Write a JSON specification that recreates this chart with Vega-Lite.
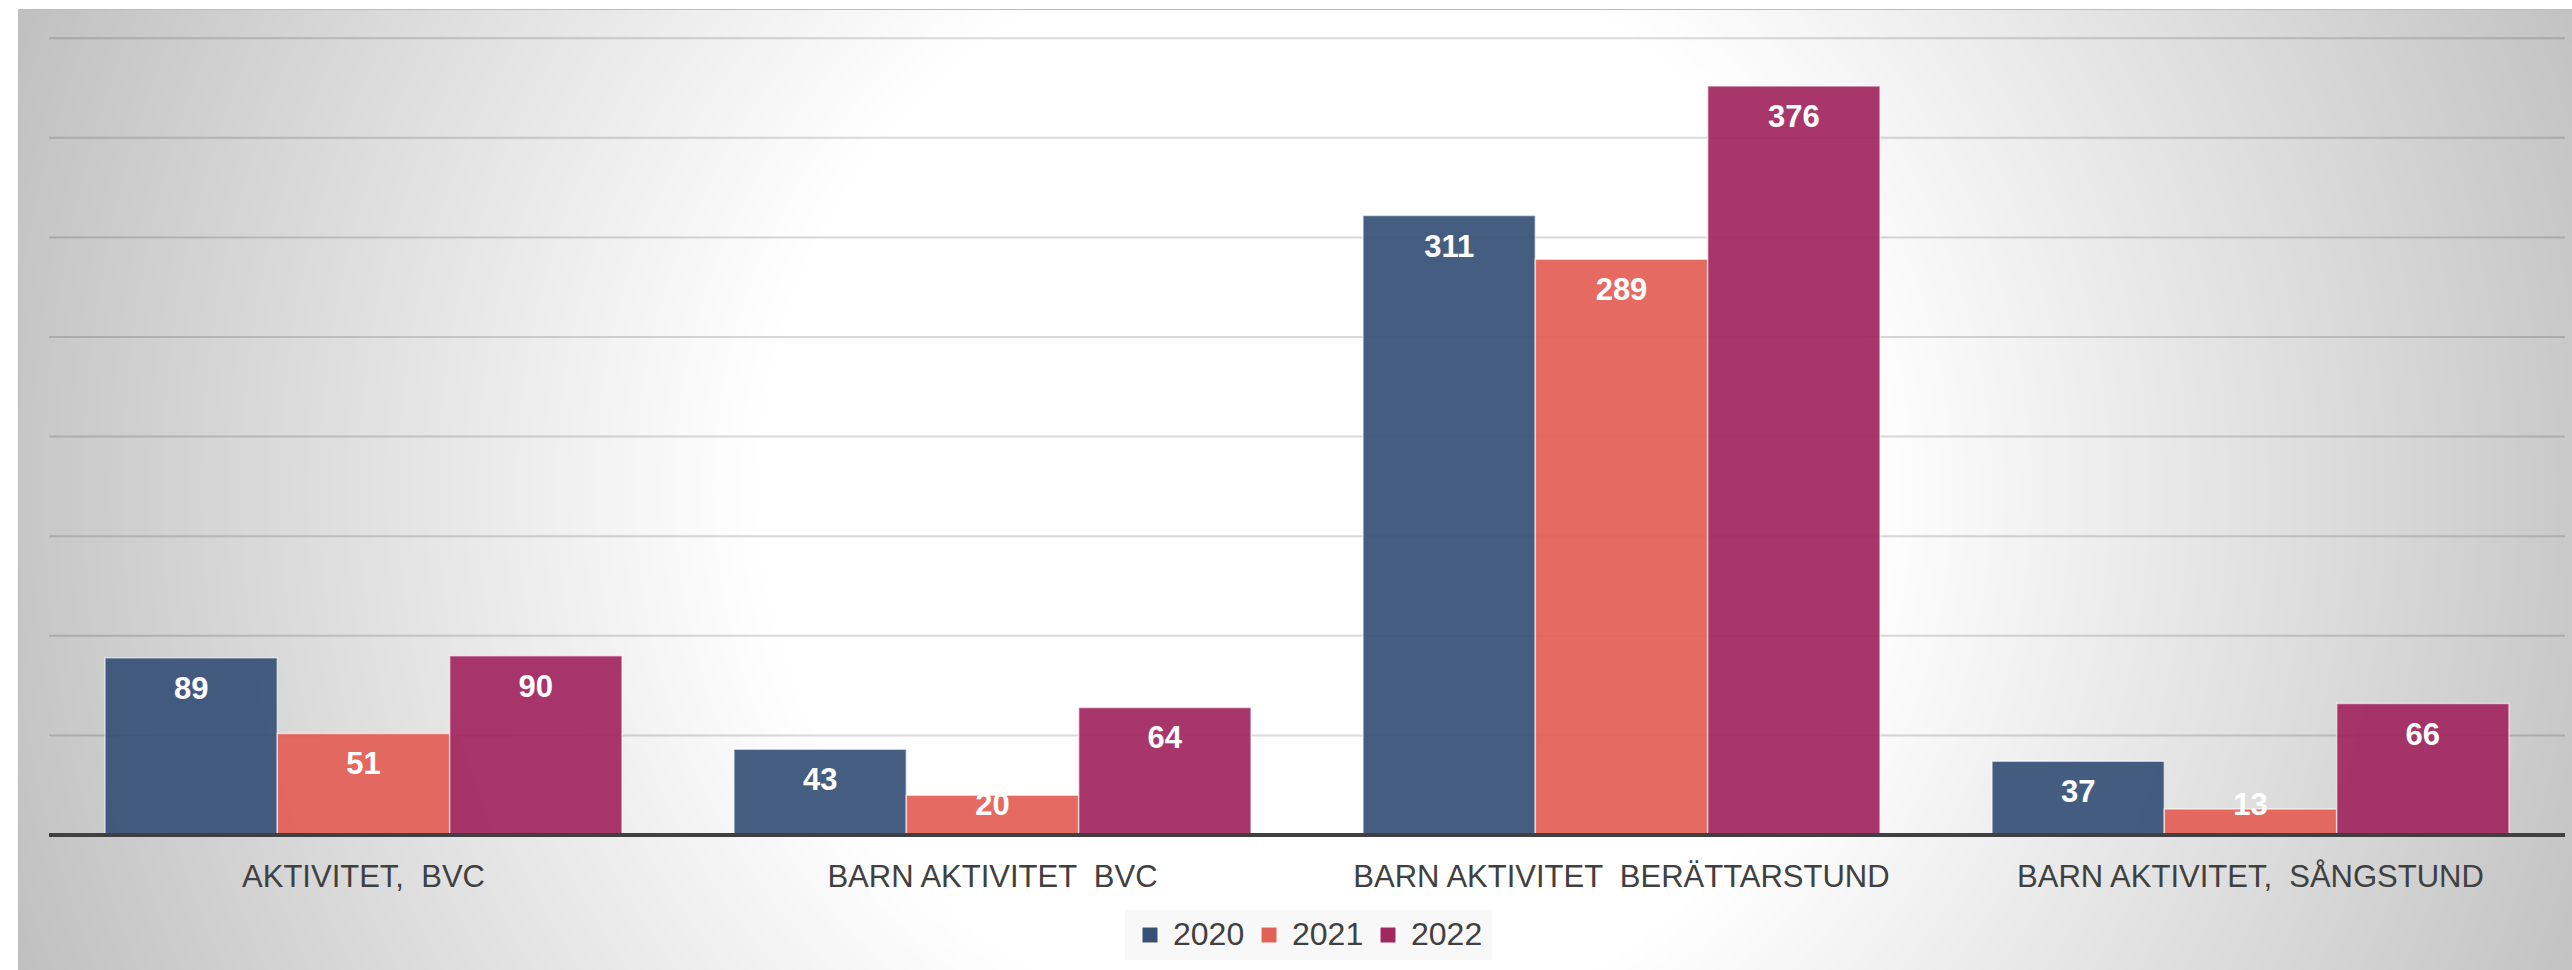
{
  "$schema": "https://vega.github.io/schema/vega-lite/v6.json",
  "width": 2554,
  "height": 961,
  "autosize": {"type": "none"},
  "padding": {"left": 18, "top": 9, "right": 0, "bottom": 0},
  "background": "white",
  "view": {
    "fill": {
      "gradient": "radial",
      "x1": 0.507, "y1": 0.5, "r1": 0,
      "x2": 0.507, "y2": 0.5, "r2": 0.54,
      "stops": [
        {"offset": 0, "color": "#ffffff"},
        {"offset": 0.4, "color": "#ffffff"},
        {"offset": 1, "color": "#c0c0c0"}
      ]
    },
    "stroke": "#bdbdbd",
    "strokeWidth": 1
  },
  "config": {"font": "Liberation Sans"},
  "datasets": {
    "main": [
      {"kategori": "AKTIVITET, \u00a0BVC", "year": "2020", "value": 89},
      {"kategori": "AKTIVITET, \u00a0BVC", "year": "2021", "value": 51},
      {"kategori": "AKTIVITET, \u00a0BVC", "year": "2022", "value": 90},
      {"kategori": "BARN AKTIVITET \u00a0BVC", "year": "2020", "value": 43},
      {"kategori": "BARN AKTIVITET \u00a0BVC", "year": "2021", "value": 20},
      {"kategori": "BARN AKTIVITET \u00a0BVC", "year": "2022", "value": 64},
      {"kategori": "BARN AKTIVITET \u00a0BERÄTTARSTUND", "year": "2020", "value": 311},
      {"kategori": "BARN AKTIVITET \u00a0BERÄTTARSTUND", "year": "2021", "value": 289},
      {"kategori": "BARN AKTIVITET \u00a0BERÄTTARSTUND", "year": "2022", "value": 376},
      {"kategori": "BARN AKTIVITET, \u00a0SÅNGSTUND", "year": "2020", "value": 37},
      {"kategori": "BARN AKTIVITET, \u00a0SÅNGSTUND", "year": "2021", "value": 13},
      {"kategori": "BARN AKTIVITET, \u00a0SÅNGSTUND", "year": "2022", "value": 66}
    ],
    "grid": [
      {"g": 50}, {"g": 100}, {"g": 150}, {"g": 200},
      {"g": 250}, {"g": 300}, {"g": 350}, {"g": 400}
    ]
  },
  "layer": [
    {
      "data": {"name": "grid"},
      "mark": {"type": "rule", "color": "black", "opacity": 0.15, "strokeWidth": 2},
      "encoding": {
        "x": {"datum": "AKTIVITET, \u00a0BVC", "bandPosition": -0.108, "type": "nominal",
              "scale": {"type": "band", "domain": ["AKTIVITET, \u00a0BVC", "BARN AKTIVITET \u00a0BVC", "BARN AKTIVITET \u00a0BERÄTTARSTUND", "BARN AKTIVITET, \u00a0SÅNGSTUND"], "paddingInner": 0.178, "paddingOuter": 0.1192, "align": 0.58}},
        "x2": {"datum": "BARN AKTIVITET, \u00a0SÅNGSTUND", "bandPosition": 1.108},
        "y": {"field": "g", "type": "quantitative", "axis": null,
              "scale": {"domain": [-67.8, 414.7], "nice": false, "zero": false}}
      }
    },
    {
      "data": {"name": "main"},
      "mark": {"type": "bar", "fillOpacity": 0.93, "stroke": "white", "strokeWidth": 1.5, "strokeOpacity": 0.6},
      "encoding": {
        "x": {"field": "kategori", "type": "nominal", "sort": null,
              "scale": {"type": "band", "domain": ["AKTIVITET, \u00a0BVC", "BARN AKTIVITET \u00a0BVC", "BARN AKTIVITET \u00a0BERÄTTARSTUND", "BARN AKTIVITET, \u00a0SÅNGSTUND"], "paddingInner": 0.178, "paddingOuter": 0.1192, "align": 0.58},
              "axis": {"orient": "bottom", "offset": -93, "domain": false, "ticks": false, "tickSize": 0,
                       "labelPadding": 0, "labelBaseline": "middle", "labelAlign": "center", "labelAngle": 0, "labelFont": "Liberation Sans",
                       "labelFontSize": 31, "labelColor": "#404040", "labelLimit": 0, "title": null, "grid": false}},
        "xOffset": {"field": "year", "type": "nominal", "scale": {"type": "band", "paddingInner": 0, "paddingOuter": 0}},
        "y": {"field": "value", "type": "quantitative", "axis": null,
              "scale": {"domain": [-67.8, 414.7], "nice": false, "zero": false}},
        "color": {"field": "year", "type": "nominal",
                  "scale": {"domain": ["2020", "2021", "2022"], "range": ["#375176", "#E36056", "#A12760"]},
                  "legend": {"orient": "none", "legendX": 1107, "legendY": 901, "direction": "horizontal",
                             "title": null, "fillColor": "#f8f8f8", "padding": 9,
                             "labelFont": "Liberation Sans", "labelFontSize": 32, "labelColor": "#404040",
                             "symbolType": "square", "symbolSize": 256, "labelOffset": 7, "columnPadding": 8,
                             "symbolStrokeWidth": 1}}
      }
    },
    {
      "data": {"name": "main"},
      "mark": {"type": "rule", "color": "#404040", "strokeWidth": 3},
      "encoding": {
        "x": {"datum": "AKTIVITET, \u00a0BVC", "bandPosition": -0.108, "type": "nominal",
              "scale": {"type": "band", "domain": ["AKTIVITET, \u00a0BVC", "BARN AKTIVITET \u00a0BVC", "BARN AKTIVITET \u00a0BERÄTTARSTUND", "BARN AKTIVITET, \u00a0SÅNGSTUND"], "paddingInner": 0.178, "paddingOuter": 0.1192, "align": 0.58}},
        "x2": {"datum": "BARN AKTIVITET, \u00a0SÅNGSTUND", "bandPosition": 1.108},
        "y": {"datum": 0, "type": "quantitative", "axis": null,
              "scale": {"domain": [-67.8, 414.7], "nice": false, "zero": false}}
      }
    },
    {
      "data": {"name": "main"},
      "transform": [{"filter": "datum.value >= 30"}],
      "mark": {"type": "text", "color": "white", "fontWeight": "bold", "fontSize": 31, "font": "Liberation Sans",
               "align": "center", "baseline": "middle", "dy": 32},
      "encoding": {
        "x": {"field": "kategori", "type": "nominal", "sort": null,
              "scale": {"type": "band", "domain": ["AKTIVITET, \u00a0BVC", "BARN AKTIVITET \u00a0BVC", "BARN AKTIVITET \u00a0BERÄTTARSTUND", "BARN AKTIVITET, \u00a0SÅNGSTUND"], "paddingInner": 0.178, "paddingOuter": 0.1192, "align": 0.58}},
        "xOffset": {"field": "year", "type": "nominal", "scale": {"type": "band", "paddingInner": 0, "paddingOuter": 0}},
        "y": {"field": "value", "type": "quantitative", "axis": null,
              "scale": {"domain": [-67.8, 414.7], "nice": false, "zero": false}},
        "text": {"field": "value", "type": "quantitative"}
      }
    },
    {
      "data": {"name": "main"},
      "transform": [{"filter": "datum.value < 30"}],
      "mark": {"type": "text", "color": "white", "fontWeight": "bold", "fontSize": 31, "font": "Liberation Sans",
               "align": "center", "baseline": "middle"},
      "encoding": {
        "x": {"field": "kategori", "type": "nominal", "sort": null,
              "scale": {"type": "band", "domain": ["AKTIVITET, \u00a0BVC", "BARN AKTIVITET \u00a0BVC", "BARN AKTIVITET \u00a0BERÄTTARSTUND", "BARN AKTIVITET, \u00a0SÅNGSTUND"], "paddingInner": 0.178, "paddingOuter": 0.1192, "align": 0.58}},
        "xOffset": {"field": "year", "type": "nominal", "scale": {"type": "band", "paddingInner": 0, "paddingOuter": 0}},
        "y": {"datum": 14.6, "type": "quantitative", "axis": null,
              "scale": {"domain": [-67.8, 414.7], "nice": false, "zero": false}},
        "text": {"field": "value", "type": "quantitative"}
      }
    }
  ]
}
